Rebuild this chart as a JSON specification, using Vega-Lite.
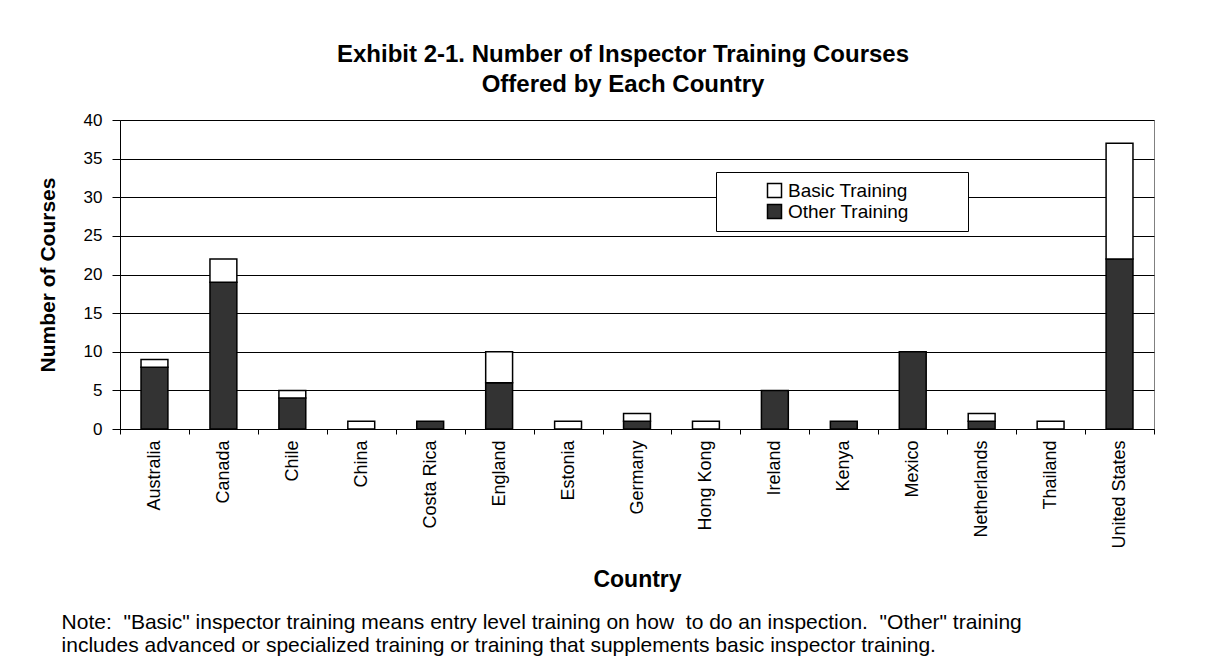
{
  "$schema": "https://vega.github.io/schema/vega-lite/v6.json",
  "background": "white",
  "padding": {"left": 36, "top": 42, "right": 40, "bottom": 4},
  "config": {
    "font": "Liberation Sans",
    "view": {"stroke": "#808080", "strokeWidth": 1}
  },
  "title": {
    "text": [
      "Note:\u00a0 \"Basic\" inspector training means entry level training on how\u00a0 to do an inspection.\u00a0 \"Other\" training",
      "includes advanced or specialized training or training that supplements basic inspector training."
    ],
    "orient": "bottom",
    "anchor": "start",
    "frame": "bounds",
    "font": "Liberation Sans",
    "fontSize": 21,
    "fontWeight": "normal",
    "color": "black",
    "lineHeight": 23,
    "offset": 20,
    "dx": 25
  },
  "vconcat": [
    {
      "width": 1034,
      "height": 309,
      "title": {
        "text": ["Exhibit 2-1. Number of Inspector Training Courses", "Offered by Each Country"],
        "font": "Liberation Sans",
        "fontSize": 24,
        "fontWeight": "bold",
        "lineHeight": 30,
        "offset": 14,
        "dx": -14,
        "anchor": "middle",
        "color": "black"
      },
      "data": {
        "values": [
          {"country": "Australia", "type": "Other Training", "courses": 8},
          {"country": "Australia", "type": "Basic Training", "courses": 1},
          {"country": "Canada", "type": "Other Training", "courses": 19},
          {"country": "Canada", "type": "Basic Training", "courses": 3},
          {"country": "Chile", "type": "Other Training", "courses": 4},
          {"country": "Chile", "type": "Basic Training", "courses": 1},
          {"country": "China", "type": "Basic Training", "courses": 1},
          {"country": "Costa Rica", "type": "Other Training", "courses": 1},
          {"country": "England", "type": "Other Training", "courses": 6},
          {"country": "England", "type": "Basic Training", "courses": 4},
          {"country": "Estonia", "type": "Basic Training", "courses": 1},
          {"country": "Germany", "type": "Other Training", "courses": 1},
          {"country": "Germany", "type": "Basic Training", "courses": 1},
          {"country": "Hong Kong", "type": "Basic Training", "courses": 1},
          {"country": "Ireland", "type": "Other Training", "courses": 5},
          {"country": "Kenya", "type": "Other Training", "courses": 1},
          {"country": "Mexico", "type": "Other Training", "courses": 10},
          {"country": "Netherlands", "type": "Other Training", "courses": 1},
          {"country": "Netherlands", "type": "Basic Training", "courses": 1},
          {"country": "Thailand", "type": "Basic Training", "courses": 1},
          {"country": "United States", "type": "Other Training", "courses": 22},
          {"country": "United States", "type": "Basic Training", "courses": 15}
        ]
      },
      "mark": {"type": "bar", "stroke": "black", "strokeWidth": 1.5, "width": {"band": 0.39}},
      "encoding": {
        "x": {
          "field": "country",
          "type": "nominal",
          "sort": ["Australia", "Canada", "Chile", "China", "Costa Rica", "England", "Estonia", "Germany", "Hong Kong", "Ireland", "Kenya", "Mexico", "Netherlands", "Thailand", "United States"],
          "scale": {"paddingInner": 0, "paddingOuter": 0},
          "axis": {
            "title": "Country",
            "titleFont": "Liberation Sans",
            "titleFontSize": 23,
            "titleFontWeight": "bold",
            "titleColor": "black",
            "titlePadding": 20,
            "labelAngle": -90,
            "labelFont": "Liberation Sans",
            "labelFontSize": 18,
            "labelColor": "black",
            "labelPadding": 6,
            "tickSize": 5,
            "tickBand": "extent",
            "tickColor": "black",
            "domainColor": "black",
            "grid": false
          }
        },
        "y": {
          "field": "courses",
          "type": "quantitative",
          "aggregate": "sum",
          "stack": "zero",
          "scale": {"domain": [0, 40], "nice": false},
          "axis": {
            "title": "Number of Courses",
            "titleFont": "Liberation Sans",
            "titleFontSize": 21,
            "titleFontWeight": "bold",
            "titleColor": "black",
            "titlePadding": 25,
            "values": [0, 5, 10, 15, 20, 25, 30, 35, 40],
            "labelFont": "Liberation Sans",
            "labelFontSize": 17,
            "labelColor": "black",
            "labelPadding": 10,
            "tickSize": 8,
            "tickColor": "black",
            "domainColor": "black",
            "grid": true,
            "gridColor": "black",
            "gridWidth": 1
          }
        },
        "color": {
          "field": "type",
          "type": "nominal",
          "scale": {"domain": ["Basic Training", "Other Training"], "range": ["white", "#333333"]},
          "legend": {
            "title": " ",
            "titleOrient": "right",
            "titlePadding": 50,
            "orient": "none",
            "legendX": 596,
            "legendY": 52,
            "fillColor": "white",
            "strokeColor": "black",
            "padding": 9,
            "symbolType": "square",
            "symbolSize": 196,
            "symbolStrokeColor": "black",
            "symbolStrokeWidth": 1.5,
            "symbolOffset": 40,
            "labelFont": "Liberation Sans",
            "labelFontSize": 19,
            "labelColor": "black",
            "labelOffset": 4,
            "rowPadding": 0
          }
        },
        "order": {"field": "type", "sort": "descending"}
      }
    }
  ]
}
